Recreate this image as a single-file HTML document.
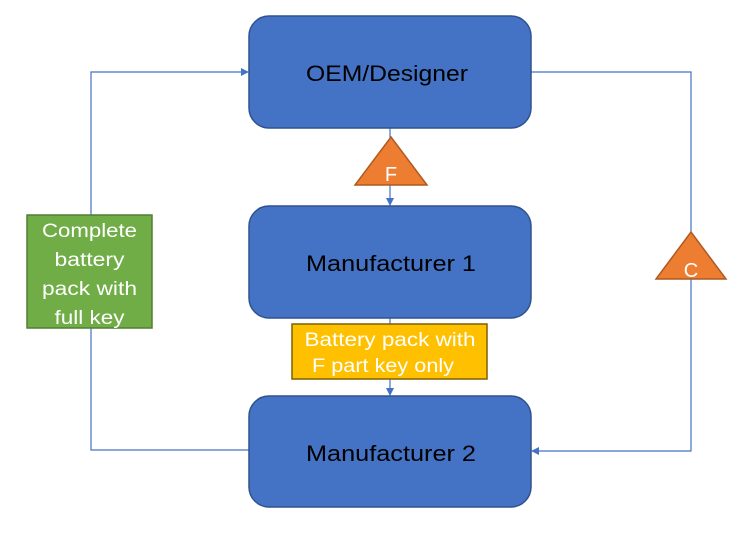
<!DOCTYPE html>
<html><head><style>body{margin:0;background:#fff}</style></head><body>
<svg width="751" height="529" xmlns="http://www.w3.org/2000/svg" font-family="Liberation Sans, sans-serif">
<defs><marker id="a" markerWidth="8" markerHeight="8" refX="7" refY="4" orient="auto" markerUnits="userSpaceOnUse"><path d="M0,0 L8,4 L0,8 z" fill="#4472c4"/></marker></defs>
<g stroke="#4472c4" stroke-width="1.2" fill="none">
<polyline points="249,450 91,450 91,72 248,72" marker-end="url(#a)"/>
<polyline points="531,72 691,72 691,451 532,451" marker-end="url(#a)"/>
<line x1="390" y1="128" x2="390" y2="205" marker-end="url(#a)"/>
<line x1="390" y1="318" x2="390" y2="395" marker-end="url(#a)"/>
</g>
<g fill="#4472c4" stroke="#2f528f" stroke-width="1.5">
<rect x="249" y="16" width="282" height="112" rx="20"/>
<rect x="249" y="206" width="282" height="112" rx="20"/>
<rect x="249" y="396" width="282" height="111" rx="20"/>
</g>
<g font-size="22" fill="#000" text-anchor="middle">
<text x="387" y="81" textLength="162" lengthAdjust="spacingAndGlyphs">OEM/Designer</text>
<text x="391" y="271" textLength="170" lengthAdjust="spacingAndGlyphs">Manufacturer 1</text>
<text x="391" y="461" textLength="170" lengthAdjust="spacingAndGlyphs">Manufacturer 2</text>
</g>
<g fill="#fff" stroke-width="1.5">
<polygon points="355,185 427,185 391,137" fill="#ed7d31" stroke="#ae5a21"/>
<polygon points="656,279 726,279 691,232" fill="#ed7d31" stroke="#ae5a21"/>
</g>
<g fill="#fff" font-size="20" text-anchor="middle">
<text x="391" y="181">F</text>
<text x="691" y="277">C</text>
</g>
<rect x="27" y="215" width="125" height="113" fill="#70ad47" stroke="#507e32" stroke-width="1.5"/>
<g fill="#fff" font-size="19" text-anchor="middle" lengthAdjust="spacingAndGlyphs">
<text x="89.5" y="237" textLength="95" lengthAdjust="spacingAndGlyphs">Complete</text>
<text x="89.5" y="266" textLength="70" lengthAdjust="spacingAndGlyphs">battery</text>
<text x="89.5" y="295" textLength="95" lengthAdjust="spacingAndGlyphs">pack with</text>
<text x="89.5" y="324" textLength="70" lengthAdjust="spacingAndGlyphs">full key</text>
</g>
<rect x="292" y="324" width="195" height="55" fill="#ffc000" stroke="#7f6000" stroke-width="1.5"/>
<g fill="#fff" font-size="19" text-anchor="middle">
<text x="390" y="346" textLength="171" lengthAdjust="spacingAndGlyphs">Battery pack with</text>
<text x="383" y="372" textLength="142" lengthAdjust="spacingAndGlyphs">F part key only</text>
</g>
</svg>
</body></html>
